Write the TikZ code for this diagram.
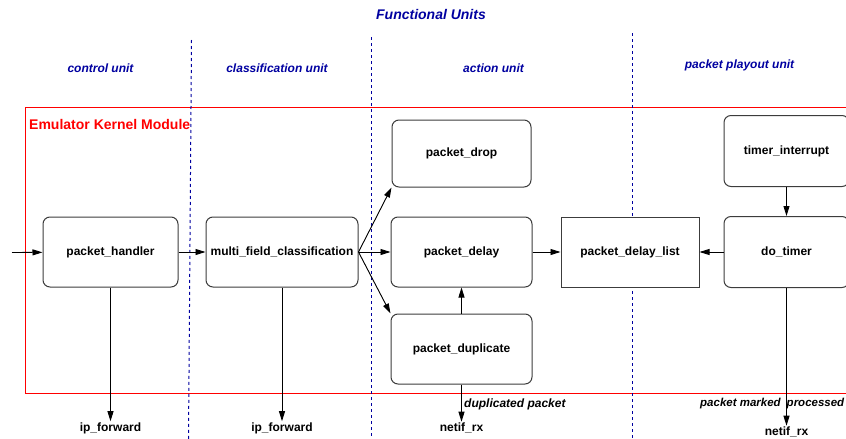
\documentclass[tikz,border=0pt]{standalone}
\usepackage{fontspec}
\setmainfont{Liberation Sans}
\usepackage{xcolor}
\usetikzlibrary{positioning}
\usetikzlibrary{arrows.meta}
\definecolor{unitcolor}{RGB}{0, 0, 160}
\definecolor{modulecolor}{RGB}{255, 0, 0}
\definecolor{boxcolor}{RGB}{60, 60, 60}
\tikzstyle{func} = [
    draw=boxcolor,
    fill=white,
    rounded corners=7pt,
    line width=1pt,
    minimum height=70pt,
    inner sep=2pt,
    font=\fontsize{12}{14}\selectfont\bfseries
]
\tikzstyle{queue} = [func, sharp corners]
\tikzstyle{flow} = [-{Triangle[length=10pt, width=6pt]}, line width=0.9pt, draw=black, fill=black]
\tikzstyle{unitlabel} = [text=unitcolor, inner sep=0pt, font=\fontsize{12}{14}\selectfont\bfseries\itshape]
\tikzstyle{unitline} = [draw=unitcolor, dash pattern=on 3pt off 3pt, line width=1pt]
\tikzstyle{exit} = [inner sep=1pt, font=\fontsize{12}{14}\selectfont\bfseries]
\tikzstyle{remark} = [anchor=west, inner sep=0pt, font=\fontsize{12}{14}\selectfont\bfseries\itshape]

\begin{document}
\begin{tikzpicture}[x=1pt, y=-1pt]
	\useasboundingbox (0,0) rectangle (846,439);

	%
	% Kernel module frame and unit borders
	\draw[draw=modulecolor, line width=1.2pt] (25.5,107.5) rectangle (850,393.5);
	\draw[unitline] (191.5,40) -- (188.5,439);
	\draw[unitline] (371.5,37) -- (371.5,439);
	\draw[unitline] (632.5,33) -- (632.5,439);

	%
	% Headings
	\node[unitlabel, font=\fontsize{14}{16}\selectfont\bfseries\itshape] (title) at (431,14) {Functional Units};
	\node[unitlabel] (ctrlunit) at (100.5,68) {control unit};
	\node[unitlabel] (classunit) at (277,68) {classification unit};
	\node[unitlabel] (actunit) at (493.5,68) {action unit};
	\node[unitlabel] (playunit) at (739.5,65) {packet playout unit};
	\node[anchor=west, inner sep=0pt, text=modulecolor, font=\fontsize{14}{16}\selectfont\bfseries] (module) at (29,124) {Emulator Kernel Module};

	%
	% Boxes
	\node[func, minimum width=135pt] (handler) at (110.5,252) {packet\_handler};
	\node[func, minimum width=152pt, right=27pt of handler] (mfc) {multi\_field\_classification};
	\node[func, minimum width=141pt, right=32pt of mfc] (delay) {packet\_delay};
	\node[func, minimum width=139pt, minimum height=67pt, above=29pt of delay] (drop) {packet\_drop};
	\node[func, minimum width=141pt, below=26pt of delay] (dup) {packet\_duplicate};
	\node[queue, minimum width=138pt, right=28pt of delay] (dlist) {packet\_delay\_list};
	\node[func, minimum width=125pt, minimum height=71pt, right=24pt of dlist] (dotimer) {do\_timer};
	\node[func, minimum width=125pt, minimum height=71pt, above=29pt of dotimer] (tint) {timer\_interrupt};

	% Exits
	\coordinate (in) at (12,252.5);
	\node[exit] (ipfwd1) at (handler.south |- 0,428) {ip\_forward};
	\node[exit] (ipfwd2) at (mfc.south |- 0,428) {ip\_forward};
	\node[exit] (netif1) at (dup.south |- 0,428) {netif\_rx};
	\node[exit] (netif2) at (dotimer.south |- 0,432) {netif\_rx};
	\node[remark] (dupnote) at (464,404) {duplicated packet};
	\node[remark, font=\fontsize{11.5}{14}\selectfont\bfseries\itshape] (donenote) at (700,404) {packet marked\hspace{2.8pt} processed};

	%
	% Arrows
	\draw[flow] (in) -- (handler);
	\draw[flow] (handler) -- (mfc);
	\draw[flow] (mfc.east) -- (drop.south west);
	\draw[flow] (mfc) -- (delay);
	\draw[flow] (mfc.east) -- (dup.north west);
	\draw[flow] (dup) -- (delay);
	\draw[flow] (delay) -- (dlist);
	\draw[flow] (dotimer) -- (dlist);
	\draw[flow] (tint) -- (dotimer);
	\draw[flow] (handler) -- (ipfwd1);
	\draw[flow] (mfc) -- (ipfwd2);
	\draw[flow] (dup) -- (netif1);
	\draw[flow] (dotimer) -- (netif2);

\end{tikzpicture}
\end{document}
